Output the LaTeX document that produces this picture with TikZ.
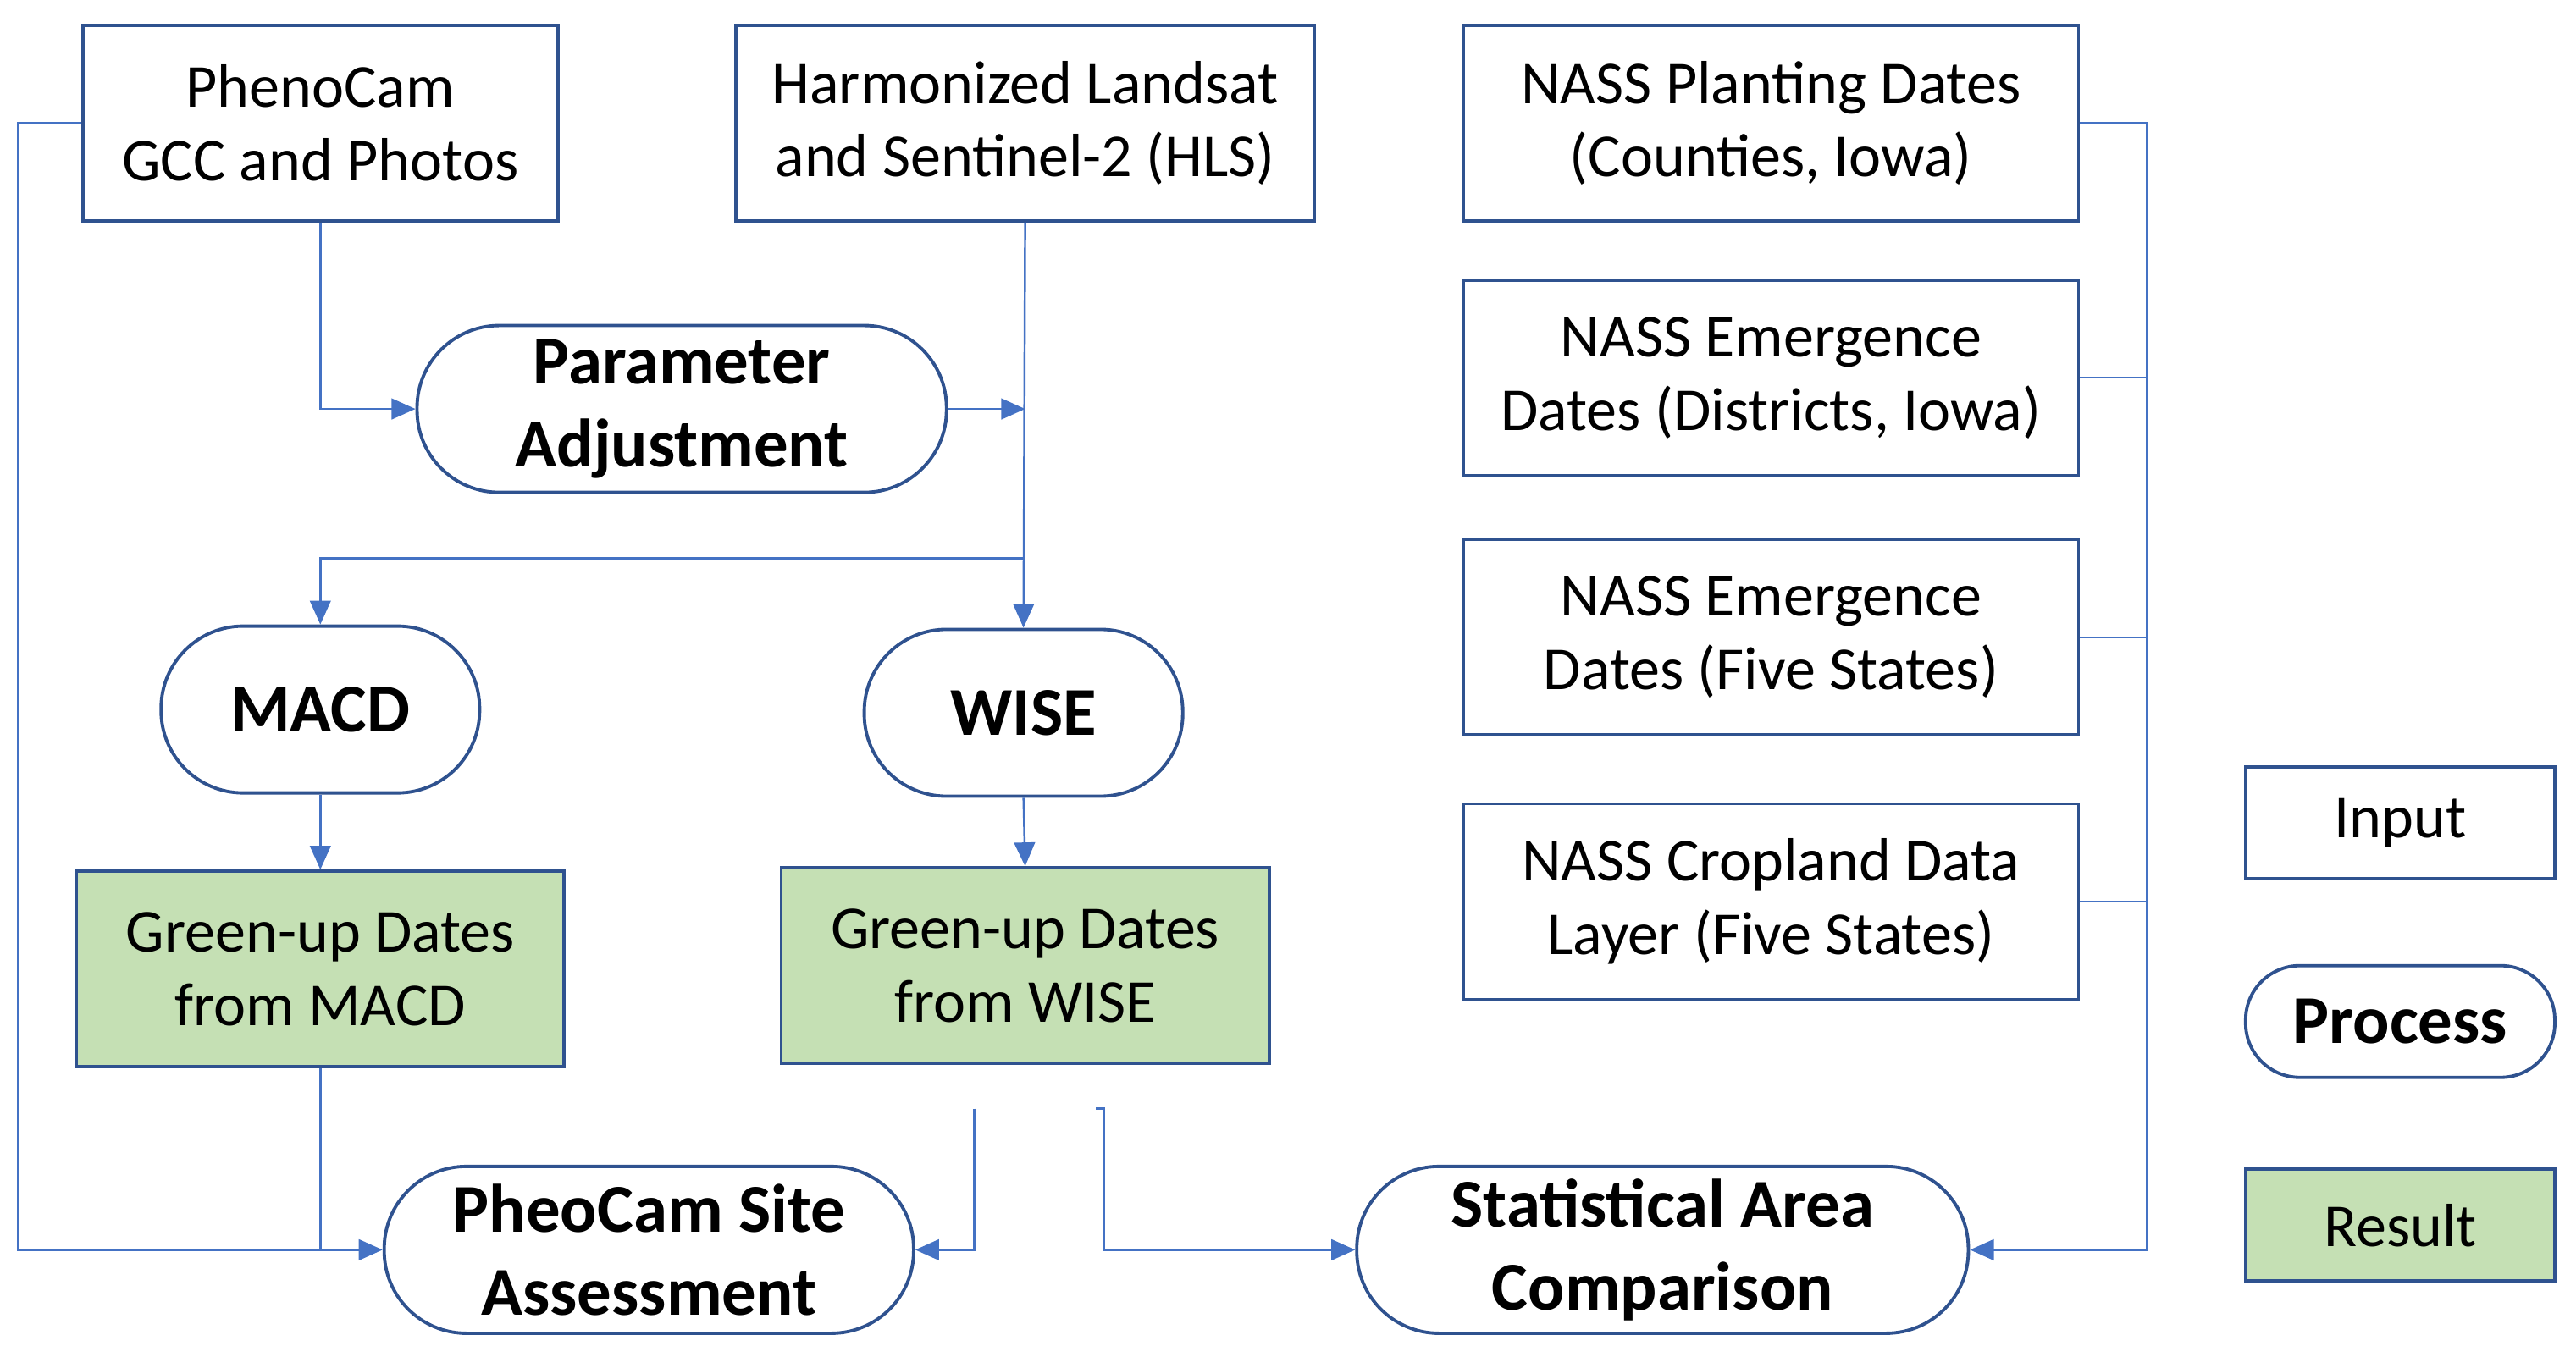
\documentclass[tikz,border=0pt]{standalone}
\usepackage{fontspec}
\setmainfont{Carlito}
\usetikzlibrary{arrows.meta}
\definecolor{bd}{HTML}{2F528F}
\definecolor{ln}{HTML}{4472C4}
\definecolor{gr}{HTML}{C5E0B4}
\begin{document}
\begin{tikzpicture}[x=0.0194cm,y=-0.0194cm,
 box/.style={draw=bd,line width=1.1pt,align=center,inner sep=0pt,font=\fontsize{20.5}{24.7}\selectfont},
 inp/.style={box,minimum height=2.31cm},
 res/.style={box,fill=gr,minimum width=5.76cm,minimum height=2.31cm},
 proc/.style={box,rounded corners=0.97cm,minimum height=1.97cm,font=\fontsize{23}{28}\selectfont\bfseries},
 con/.style={draw=ln,line width=0.7pt},
 arr/.style={con,-{Triangle[length=8pt,width=7pt]}}]
\useasboundingbox (0,0) rectangle (1568,826);
\node[inp,minimum width=5.61cm] (pc) at (195,75) {PhenoCam\\GCC and Photos};
\node[inp,minimum width=6.83cm] (hls) at (624,75) {Harmonized Landsat\\and Sentinel-2 (HLS)};
\node[inp,minimum width=7.26cm] (n1) at (1078,75) {NASS Planting Dates\\(Counties, Iowa)};
\node[inp,minimum width=7.26cm] (n2) at (1078,230) {NASS Emergence\\Dates (Districts, Iowa)};
\node[inp,minimum width=7.26cm] (n3) at (1078,388) {NASS Emergence\\Dates (Five States)};
\node[inp,minimum width=7.26cm] (n4) at (1078,549) {NASS Cropland Data\\Layer (Five States)};
\node[proc,minimum width=6.25cm] (pa) at (415,249) {Parameter\\Adjustment};
\node[proc,minimum width=3.76cm] (macd) at (195,432) {MACD};
\node[proc,minimum width=3.76cm] (wise) at (623,434) {WISE};
\node[res] (gm) at (195,590) {Green-up Dates\\from MACD};
\node[res] (gw) at (624,588) {Green-up Dates\\from WISE};
\node[proc,minimum width=6.25cm] (site) at (395,761) {PheoCam Site\\Assessment};
\node[proc,minimum width=7.22cm] (stat) at (1012,761) {Statistical Area\\Comparison};
\node[box,minimum width=3.65cm,minimum height=1.32cm] (li) at (1461,501) {Input};
\node[proc,rounded corners=0.64cm,minimum width=3.65cm,minimum height=1.32cm] (lp) at (1461,622) {Process};
\node[box,fill=gr,minimum width=3.65cm,minimum height=1.32cm] (lr) at (1461,746) {Result};
\coordinate (a) at (593,675);
\coordinate (b) at (667,675);
\draw[arr] (pc.west) -- (11,75) -- (11,761) -- (site.west);
\draw[arr] (pc.south) -- (195,249) -- (pa.west);
\draw[arr] (hls.south) -- (wise.north);
\draw[arr] (pa.east) -- (624,249);
\draw[arr] (624,340) -- (195,340) -- (macd.north);
\draw[arr] (macd.south) -- (gm.north);
\draw[arr] (wise.south) -- (gw.north);
\draw[con] (gm.south) -- (195,761);
\draw[arr] (a) -- (593,761) -- (site.east);
\draw[arr] (b) -- (672,675) -- (672,761) -- (stat.west);
\draw[con] (n1.east) -- (1307,75);
\draw[con] (n2.east) -- (1307,230);
\draw[con] (n3.east) -- (1307,388);
\draw[con] (n4.east) -- (1307,549);
\draw[arr] (1307,75) -- (1307,761) -- (stat.east);
\end{tikzpicture}
\end{document}
